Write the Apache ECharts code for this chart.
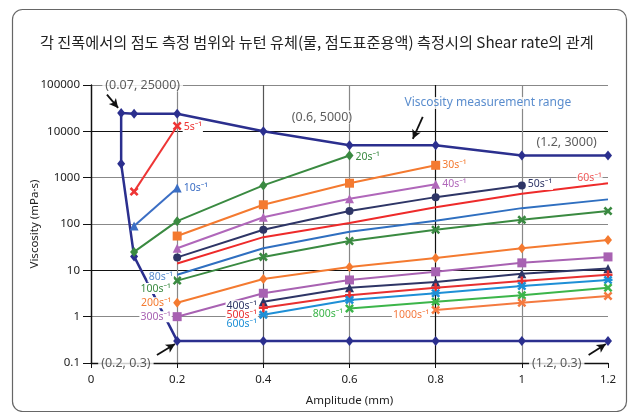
<!DOCTYPE html>
<html><head><meta charset="utf-8">
<script src="https://cdn.jsdelivr.net/npm/echarts@6/dist/echarts.min.js"></script>
<style>html,body{margin:0;padding:0;background:#fff}#c{width:633px;height:412px}</style>
</head><body><div id="c"></div>
<script>
// ---- data ----
const titleText = '각 진폭에서의 점도 측정 범위와 뉴턴 유체(물, 점도표준용액) 측정시의 Shear rate의 관계';
const rangeAmp  = [1.2, 1.0, 0.8, 0.6, 0.4, 0.2, 0.1, 0.07, 0.07, 0.1, 0.2, 0.4, 0.6, 0.8, 1.0, 1.2];
const rangeVisc = [3000, 3000, 5000, 5000, 10000, 24000, 24000, 25000, 2000, 20, 0.3, 0.3, 0.3, 0.3, 0.3, 0.3];

const amp5 = [0.1, 0.2];                 const visc5 = [500, 13000];
const amp10 = [0.1, 0.2];                const visc10 = [90, 600];
const amp20 = [0.1, 0.2, 0.4, 0.6];      const visc20 = [25, 115, 680, 3000];
const amp30 = [0.2, 0.4, 0.6, 0.8];      const visc30 = [55, 260, 760, 1850];
const amp40 = [0.2, 0.4, 0.6, 0.8];      const visc40 = [30, 140, 350, 720];
const amp50 = [0.2, 0.4, 0.6, 0.8, 1.0]; const visc50 = [19, 75, 190, 380, 680];
const amp60 = [0.2, 0.4, 0.6, 0.8, 1.0, 1.2]; const visc60 = [14, 52, 105, 230, 450, 760];
const amp80 = [0.2, 0.4, 0.6, 0.8, 1.0, 1.2]; const visc80 = [8, 30, 68, 117, 220, 340];
const amp100 = [0.2, 0.4, 0.6, 0.8, 1.0, 1.2]; const visc100 = [6, 19.5, 43, 75, 123, 190];
const amp200 = [0.2, 0.4, 0.6, 0.8, 1.0, 1.2]; const visc200 = [2, 6.5, 11.8, 18.5, 30, 45];
const amp300 = [0.2, 0.4, 0.6, 0.8, 1.0, 1.2]; const visc300 = [1, 3.2, 6.2, 9.3, 14.5, 19.5];
const amp400 = [0.4, 0.6, 0.8, 1.0, 1.2]; const visc400 = [2.1, 4.2, 5.6, 8.4, 11];
const amp500 = [0.4, 0.6, 0.8, 1.0, 1.2]; const visc500 = [1.55, 2.9, 4.2, 5.9, 8];
const amp600 = [0.4, 0.6, 0.8, 1.0, 1.2]; const visc600 = [1.1, 2.3, 3.2, 4.6, 6.2];
const amp800 = [0.6, 0.8, 1.0, 1.2];     const visc800 = [1.5, 2.1, 2.9, 4.2];
const amp1000 = [0.8, 1.0, 1.2];         const visc1000 = [1.4, 2.0, 2.8];

// annotations (text, amplitude, viscosity)
const noteText = ['(0.07, 25000)', '(0.6, 5000)', 'Viscosity measurement range', '(1.2, 3000)', '(0.2, 0.3)', '(1.2, 0.3)', '60s⁻¹', '80s⁻¹'];
const noteAmp  = [0.12, 0.536, 0.921, 1.104, 0.081, 1.081, 1.157, 0.162];
const noteVisc = [100000, 20400, 41000, 5900, 0.1, 0.1, 1000, 7.2];
const noteColor = ['#333', '#333', '#2f6fc0', '#333', '#333', '#333', '#ee2a2a', '#2f6fc0'];
// arrows [from amplitude, from viscosity] -> [to amplitude, to viscosity]
const arrowFromAmp = [0.037, 0.77, 0.153, 1.155];
const arrowFromVisc = [62000, 20400, 0.149, 0.149];
const arrowToAmp = [0.063, 0.747, 0.195, 1.195];
const arrowToVisc = [32000, 6900, 0.257, 0.257];

// ---- styles ----
const X_PATH = 'path://M0,2 L2,0 L5,3 L8,0 L10,2 L7,5 L10,8 L8,10 L5,7 L2,10 L0,8 L3,5 Z';
const PLUS_PATH = 'path://M3.6,0 H6.4 V3.6 H10 V6.4 H6.4 V10 H3.6 V6.4 H0 V3.6 H3.6 Z';
const AST_PATH = 'path://M0,2 L2,0 L5,3 L8,0 L10,2 L7,5 L10,8 L8,10 L5,7 L2,10 L0,8 L3,5 Z M0,3.8 H10 V6.2 H0 Z';
const FONT = 'Noto Sans, DejaVu Sans, sans-serif';

function rateSeries(rate, xs, ys, color, symbol, size, labelIdx, pos, offset) {
  return {
    name: rate + 's⁻¹', type: 'line', symbol: symbol, symbolSize: size,
    lineStyle: { color: color, width: 2 }, itemStyle: { color: color, borderWidth: 0 },
    z: 3,
    data: xs.map((x, i) => {
      const d = { value: [x, ys[i]] };
      if (i === labelIdx) d.label = {
        show: true, position: pos, offset: offset, distance: 1,
        formatter: rate + 's⁻¹', color: color, fontSize: 10.5, fontFamily: FONT,
        backgroundColor: '#fff', padding: [0, 1]
      };
      return d;
    })
  };
}

const series = [
  {
    name: 'range', type: 'line', symbol: 'diamond', symbolSize: [8, 10],
    lineStyle: { color: '#2b2f8e', width: 2.5 }, itemStyle: { color: '#2b2f8e' }, z: 2,
    data: rangeAmp.map((x, i) => [x, rangeVisc[i]])
  },
  rateSeries('5', amp5, visc5, '#ee3535', X_PATH, 9, 1, 'right', [0, 1]),
  rateSeries('10', amp10, visc10, '#3b6ec4', 'triangle', 9, 1, 'right', [0, 0]),
  rateSeries('20', amp20, visc20, '#3a8a41', 'diamond', [8, 10], 3, 'right', [0, 1]),
  rateSeries('30', amp30, visc30, '#f47a30', 'rect', 9, 3, 'right', [0, 0]),
  rateSeries('40', amp40, visc40, '#b067ba', 'triangle', 9, 3, 'right', [0, 0]),
  rateSeries('50', amp50, visc50, '#2e3566', 'circle', 8, 4, 'right', [0, -1]),
  rateSeries('60', amp60, visc60, '#ee2a2a', 'none', 0, -1, 'right', [0, 0]),
  rateSeries('80', amp80, visc80, '#2f6fc0', 'none', 0, -1, 'left', [0, 0]),
  rateSeries('100', amp100, visc100, '#3a8a41', X_PATH, 9, 0, 'left', [0, 8]),
  rateSeries('200', amp200, visc200, '#f47a30', 'diamond', [8, 10], 0, 'left', [0, 0]),
  rateSeries('300', amp300, visc300, '#a862b2', 'rect', 9, 0, 'left', [0, 0]),
  rateSeries('400', amp400, visc400, '#2e3566', 'triangle', 9, 0, 'left', [0, 4]),
  rateSeries('500', amp500, visc500, '#e83030', PLUS_PATH, 9, 0, 'left', [0, 7]),
  rateSeries('600', amp600, visc600, '#1e8fd6', AST_PATH, 9, 0, 'left', [0, 9]),
  rateSeries('800', amp800, visc800, '#3cb54a', X_PATH, 9, 0, 'left', [0, 6]),
  rateSeries('1000', amp1000, visc1000, '#f47a40', X_PATH, 9, 0, 'left', [0, 5]),
  {
    name: 'notes', type: 'scatter', symbolSize: 0, clip: false, z: 6, silent: true,
    data: noteText.map((t, i) => ({
      value: [noteAmp[i], noteVisc[i]],
      label: {
        show: true, position: 'inside', formatter: t, color: noteColor[i],
        fontSize: i === 2 ? 12 : (i >= 6 ? 10.5 : 12.5), fontFamily: FONT,
        backgroundColor: '#fff', padding: i >= 6 ? [0, 1] : [0, 3]
      }
    })),
    markLine: {
      silent: true, symbol: ['none', 'arrow'], symbolSize: [7, 9],
      lineStyle: { color: '#111', width: 1.8, type: 'solid' }, label: { show: false },
      data: arrowFromAmp.map((x, i) => [
        { coord: [x, arrowFromVisc[i]] },
        { coord: [arrowToAmp[i], arrowToVisc[i]] }
      ])
    }
  }
];

const chart = echarts.init(document.getElementById('c'), null, { renderer: 'canvas' });
chart.setOption({
  animation: false,
  backgroundColor: '#fff',
  title: {
    text: titleText, left: 35, top: 30,
    textStyle: { fontSize: 15.2, fontWeight: 'normal', color: '#222', fontFamily: 'Noto Sans CJK KR, sans-serif' }
  },
  graphic: [{
    type: 'rect', left: 10, top: 7, z: -1, silent: true,
    shape: { width: 614, height: 402, r: 10 },
    style: { fill: 'none', stroke: '#666', lineWidth: 1.2 }
  }],
  grid: { left: 91, right: 25, top: 85, bottom: 49, containLabel: false },
  xAxis: {
    type: 'value', min: 0, max: 1.2, interval: 0.2,
    name: 'Amplitude (mm)', nameLocation: 'middle', nameGap: 32, nameMoveOverlap: false,
    nameTextStyle: { fontSize: 11.5, color: '#222', fontFamily: FONT },
    axisLine: { show: true, lineStyle: { color: '#111', width: 1.3 } },
    axisTick: { show: true, length: 5, lineStyle: { color: '#111' } },
    axisLabel: { fontSize: 11.5, color: '#222', margin: 11, fontFamily: FONT, formatter: v => String(+v.toFixed(1)) },
    splitLine: { show: true, showMaxLine: false, lineStyle: { color: ['#111', '#888', '#555', '#888', '#111', '#888', '#888'], width: 1.2 } }
  },
  yAxis: {
    type: 'log', logBase: 10, min: 0.1, max: 100000,
    name: 'Viscosity (mPa·s)', nameLocation: 'middle', nameGap: 50, nameMoveOverlap: false,
    nameTextStyle: { fontSize: 11.5, color: '#222', fontFamily: FONT },
    axisLine: { show: true, lineStyle: { color: '#111', width: 1.3 } },
    axisTick: { show: true, length: 8, lineStyle: { color: '#111' } },
    axisLabel: { fontSize: 11.5, color: '#222', margin: 11, fontFamily: FONT, formatter: v => String(+(+v).toPrecision(6)) },
    splitLine: { show: true, lineStyle: { color: ['#111', '#888', '#111', '#888', '#888', '#111', '#888'], width: 1.2 } },
    minorTick: { show: false }
  },
  series: series
});
</script></body></html>
